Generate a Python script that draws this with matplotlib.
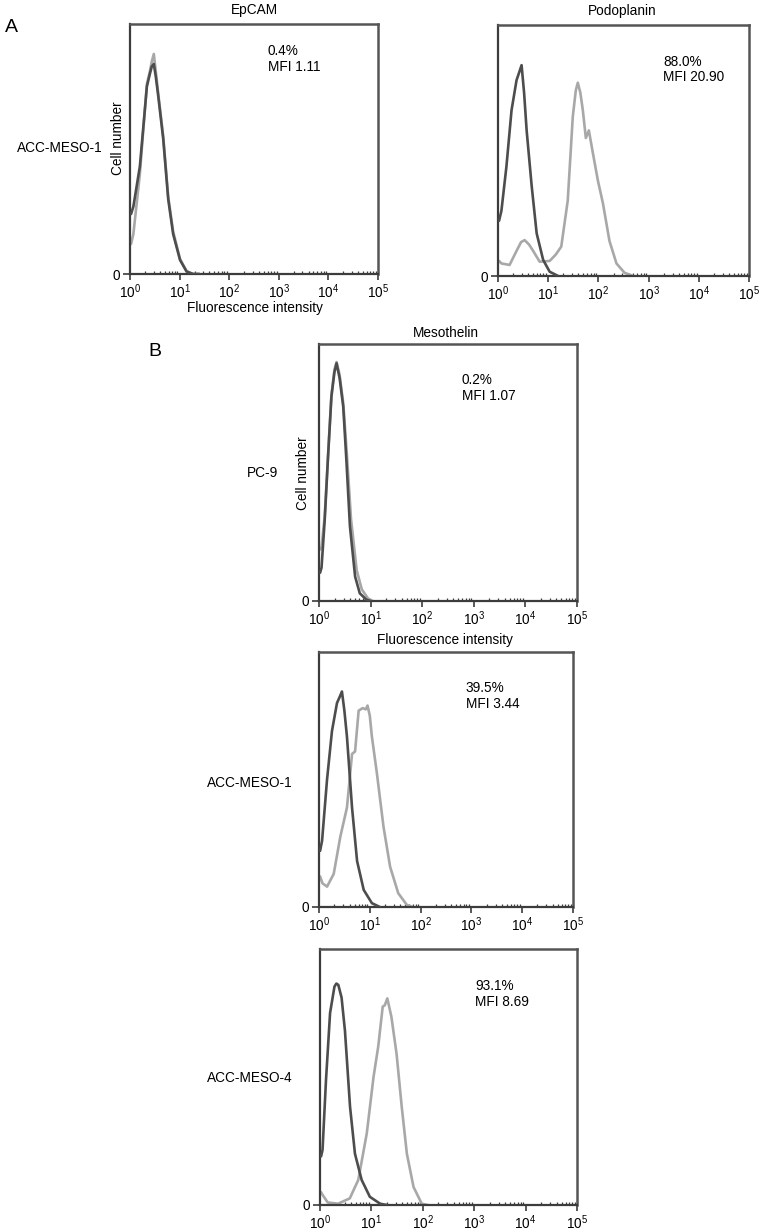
import matplotlib
matplotlib.use("Agg")
import matplotlib.pyplot as plt
from matplotlib.ticker import LogLocator, NullFormatter, FixedLocator, FixedFormatter

plt.rcParams['font.family'] = ['Liberation Sans', 'DejaVu Sans']
plt.rcParams['mathtext.fontset'] = 'custom'
plt.rcParams['mathtext.rm'] = 'Liberation Sans'
plt.rcParams['mathtext.it'] = 'Liberation Sans:italic'
plt.rcParams['mathtext.bf'] = 'Liberation Sans:bold'

# ---------------- data (fluorescence intensity, relative cell number) ----------------
epcam_ctrl_x = [1.05, 1.17, 1.58, 2.19, 2.51, 2.75, 3.02, 3.31, 3.72, 4.68, 5.89, 7.41, 10.2, 13.8, 18.6, 25]
epcam_ctrl_y = [24, 27, 43, 75, 80, 83, 84, 79, 71, 54, 30, 16, 5.6, 1.0, 0, 0]
epcam_stain_x = [1.05, 1.17, 1.58, 2.19, 2.51, 2.75, 3.02, 3.31, 3.72, 4.68, 5.89, 7.41, 10.2, 13.8, 18.6, 25]
epcam_stain_y = [12, 16, 40, 76, 81, 85, 88, 81, 72, 55, 31, 17, 6.0, 1.2, 0, 0]

podo_ctrl_x = [1.05, 1.17, 1.47, 1.86, 2.34, 2.63, 2.95, 3.31, 3.72, 4.68, 5.89, 7.94, 10.7, 15.8]
podo_ctrl_y = [22, 26, 43.5, 66, 78, 81, 84, 73, 58, 36, 17, 6.4, 1.7, 0]
podo_stain_x = [1.05, 1.17, 1.70, 2.34, 2.88, 3.39, 4.17, 5.01, 6.76, 10.7, 14.1, 18.2, 24.5, 26.9, 30.9,
                35.5, 38.9, 43.7, 49.0, 56.2, 64.6, 77.6, 97.7, 123, 166, 229, 331, 490]
podo_stain_y = [6, 5, 4.4, 10, 13.5, 14.3, 12.5, 10, 5.7, 6, 8.5, 11.7, 30, 43.5, 63.5,
                74, 77, 73, 66, 55, 58, 49, 38, 29, 14, 5, 1.3, 0]

pc9_ctrl_x = [1.05, 1.12, 1.29, 1.51, 1.74, 1.99, 2.19, 2.51, 2.95, 3.39, 3.98, 5.01, 6.17, 8.32, 10]
pc9_ctrl_y = [11, 13, 31.5, 57.5, 79.5, 89, 92.5, 86.7, 75.6, 55, 29, 9.5, 3, 0.5, 0]
pc9_stain_x = [1.05, 1.12, 1.29, 1.51, 1.74, 1.99, 2.19, 2.51, 2.95, 3.47, 4.17, 5.37, 6.76, 8.9, 11]
pc9_stain_y = [20, 21, 33, 58, 80, 90, 93, 88, 77, 57, 32, 12, 4.5, 1, 0]

meso1_ctrl_x = [1.05, 1.15, 1.44, 1.80, 2.26, 2.57, 2.83, 3.16, 3.55, 4.47, 5.62, 7.59, 11.0, 15.8]
meso1_ctrl_y = [22, 26, 50, 69, 80, 82.5, 84.5, 77, 66.8, 39, 18, 6.7, 1.5, 0]
meso1_stain_x = [1.05, 1.17, 1.44, 1.95, 2.63, 3.55, 4.47, 5.13, 6.03, 7.24, 8.32, 9.02, 10.0, 11.0,
                 13.8, 18.6, 25.1, 36.3, 53.7, 70.8]
meso1_stain_y = [12, 9.3, 8, 13, 27.6, 39, 60, 61, 77, 78, 77.5, 79, 75, 66.8,
                 52.4, 31.5, 15.8, 5.4, 0.8, 0]

meso4_ctrl_x = [1.05, 1.12, 1.31, 1.57, 1.91, 2.08, 2.27, 2.63, 3.06, 3.84, 4.79, 6.46, 9.33, 14.8, 20]
meso4_ctrl_y = [19, 21.5, 49, 75, 85.3, 86.5, 86, 81, 68, 38.4, 20, 9.8, 3.2, 0.5, 0]
meso4_stain_x = [1.05, 1.12, 1.41, 2.24, 3.80, 5.56, 8.13, 11.0, 13.6, 16.6, 18.2, 20.4,
                 24.5, 30.9, 38.9, 49.0, 66.1, 95.5, 126]
meso4_stain_y = [5, 4, 1, 0.5, 2.6, 9.8, 28, 50, 62, 77.5, 78, 80.7,
                 73.5, 59, 38.4, 20, 7, 0.5, 0]

panel_titles = ["EpCAM", "Podoplanin", "Mesothelin", "", ""]
row_labels = ["ACC-MESO-1", "", "PC-9", "ACC-MESO-1", "ACC-MESO-4"]
pct_labels = ["0.4%", "88.0%", "0.2%", "39.5%", "93.1%"]
mfi_labels = ["MFI 1.11", "MFI 20.90", "MFI 1.07", "MFI 3.44", "MFI 8.69"]
x_tick_values = [1, 10, 100, 1000, 10000, 100000]
x_tick_labels = [r'$10^{0}$', r'$10^{1}$', r'$10^{2}$', r'$10^{3}$', r'$10^{4}$', r'$10^{5}$']

# ---------------- layout ----------------
W, H = 765, 1232
fig = plt.figure(figsize=(W / 100, H / 100), dpi=100)
fig.patch.set_facecolor('white')

FS = 9.8

def px_axes(l, t, r, b):
    return fig.add_axes([l / W, 1 - b / H, (r - l) / W, (b - t) / H])

def ftext(x, y, s, **kw):
    fig.text(x / W, 1 - y / H, s, **kw)

boxes = [(130, 24, 378, 274), (498, 25, 749, 276), (319, 344, 577, 601),
         (319, 652, 573, 907), (320, 949, 577, 1205)]
curves = [
    (epcam_ctrl_x, epcam_ctrl_y, epcam_stain_x, epcam_stain_y),
    (podo_ctrl_x, podo_ctrl_y, podo_stain_x, podo_stain_y),
    (pc9_ctrl_x, pc9_ctrl_y, pc9_stain_x, pc9_stain_y),
    (meso1_ctrl_x, meso1_ctrl_y, meso1_stain_x, meso1_stain_y),
    (meso4_ctrl_x, meso4_ctrl_y, meso4_stain_x, meso4_stain_y),
]
# pixel positions of annotation text: (left x, first line y, second line y)
text_px = [(268, 51, 67), (663, 62, 77), (462, 380, 396), (466, 688, 704), (475, 986, 1002)]

dark = '#4d4d4d'
light = '#a8a8a8'
spine_c = '#3c3c3c'

for i, (box, cv) in enumerate(zip(boxes, curves)):
    ax = px_axes(*box)
    cx, cy, sx, sy = cv
    ax.plot(sx, sy, color=light, lw=1.9, solid_joinstyle='round', solid_capstyle='round', zorder=2)
    ax.plot(cx, cy, color=dark, lw=1.9, solid_joinstyle='round', solid_capstyle='round', zorder=3)
    ax.set_xscale('log')
    ax.set_xlim(1, 1e5)
    ax.set_ylim(0, 100)
    ax.xaxis.set_major_locator(FixedLocator(x_tick_values))
    ax.xaxis.set_major_formatter(FixedFormatter(x_tick_labels))
    ax.xaxis.set_minor_locator(LogLocator(base=10, subs=range(2, 10)))
    ax.xaxis.set_minor_formatter(NullFormatter())
    ax.set_yticks([0])
    ax.set_yticklabels(['0'])
    ax.tick_params(axis='x', which='major', direction='out', length=4, width=1.2,
                   labelsize=FS, pad=2, colors=spine_c, labelcolor='black')
    ax.tick_params(axis='x', which='minor', direction='in', length=2.5, width=0.9, colors=spine_c)
    ax.tick_params(axis='y', which='major', direction='out', length=5, width=1.2,
                   labelsize=FS, pad=2, colors=spine_c, labelcolor='black')
    for side, sp in ax.spines.items():
        sp.set_color(spine_c)
        sp.set_linewidth(1.6)
    for sp in ('top', 'right'):
        ax.spines[sp].set_linewidth(1.8)
        ax.spines[sp].set_color('#555555')
    tx, ty1, ty2 = text_px[i]
    ftext(tx, ty1, pct_labels[i], fontsize=FS, va='center', ha='left')
    ftext(tx, ty2, mfi_labels[i], fontsize=FS, va='center', ha='left')

# titles
ftext(254, 10, panel_titles[0], fontsize=FS, ha='center', va='center')
ftext(622, 11, panel_titles[1], fontsize=FS, ha='center', va='center')
ftext(446, 333, panel_titles[2], fontsize=FS, ha='center', va='center')

# axis labels
ftext(255, 308, "Fluorescence intensity", fontsize=FS, ha='center', va='center')
ftext(445, 640, "Fluorescence intensity", fontsize=FS, ha='center', va='center')
ftext(118, 138, "Cell number", fontsize=FS, ha='center', va='center', rotation=90)
ftext(303, 473, "Cell number", fontsize=FS, ha='center', va='center', rotation=90)

# row labels
ftext(103, 148, row_labels[0], fontsize=FS, ha='right', va='center')
ftext(278, 473, row_labels[2], fontsize=FS, ha='right', va='center')
ftext(293, 783, row_labels[3], fontsize=FS, ha='right', va='center')
ftext(293, 1078, row_labels[4], fontsize=FS, ha='right', va='center')

# panel letters
ftext(11, 27, "A", fontsize=14, ha='center', va='center')
ftext(155, 352, "B", fontsize=14, ha='center', va='center')

fig.savefig("out.png", dpi=100, facecolor='white')
